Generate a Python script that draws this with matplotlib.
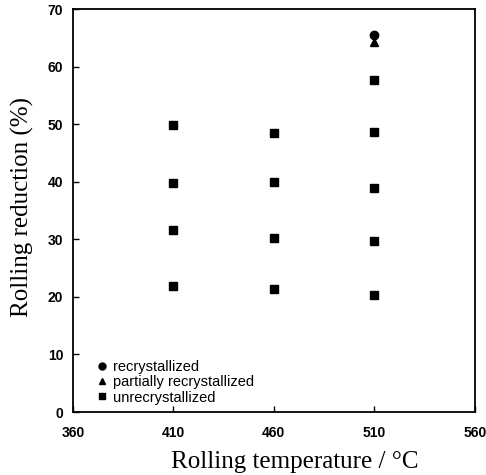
import matplotlib
matplotlib.use("Agg")
import matplotlib.pyplot as plt
from matplotlib.lines import Line2D

# Data
unrecr_temp = [410, 410, 410, 410, 460, 460, 460, 460, 510, 510, 510, 510, 510]
unrecr_red = [49.9, 39.8, 31.6, 21.9, 48.5, 39.9, 30.2, 21.4, 57.7, 48.6, 39.0, 29.7, 20.3]
partial_temp = [510]
partial_red = [64.3]
recr_temp = [510]
recr_red = [65.5]
xticks = [360, 410, 460, 510, 560]
yticks = [0, 10, 20, 30, 40, 50, 60, 70]
legend_labels = ["recrystallized", "partially recrystallized", "unrecrystallized"]

fig = plt.figure(figsize=(4.86, 4.75), dpi=100)
ax = fig.add_axes([0.150, 0.1326, 0.827, 0.848])

ax.plot(unrecr_temp, unrecr_red, 's', color='black', markersize=6, linestyle='none')
ax.plot(partial_temp, partial_red, '^', color='black', markersize=6, linestyle='none')
ax.plot(recr_temp, recr_red, 'o', color='black', markersize=6, linestyle='none')

ax.set_xlim(360, 560)
ax.set_ylim(0, 70)
ax.set_xticks(xticks)
ax.set_yticks(yticks)
ax.tick_params(direction='in', length=4, width=1, top=False, right=False)
ax.tick_params(axis='x', pad=10)
ax.tick_params(axis='y', pad=7)
for lbl in ax.get_xticklabels() + ax.get_yticklabels():
    lbl.set_fontfamily('Liberation Sans')
    lbl.set_fontsize(10)
    lbl.set_fontweight('bold')
for s in ax.spines.values():
    s.set_linewidth(1.3)

ax.set_xlabel("Rolling temperature / °C", fontfamily='Liberation Serif', fontsize=18)
ax.set_ylabel("Rolling reduction (%)", fontfamily='Liberation Serif', fontsize=18)
ax.xaxis.set_label_coords(0.552, -0.098)
ax.yaxis.set_label_coords(-0.097, 0.51)

handles = [
    Line2D([], [], marker='o', color='black', linestyle='none', markersize=5),
    Line2D([], [], marker='^', color='black', linestyle='none', markersize=5),
    Line2D([], [], marker='s', color='black', linestyle='none', markersize=5),
]
leg = ax.legend(handles, legend_labels, loc='lower left', frameon=False,
                prop={'family': 'Liberation Sans', 'size': 10.5},
                handlelength=0.6, handletextpad=0.45, labelspacing=0.08,
                borderaxespad=0.0, bbox_to_anchor=(0.048, 0.004))

fig.savefig("out.png", dpi=100)
